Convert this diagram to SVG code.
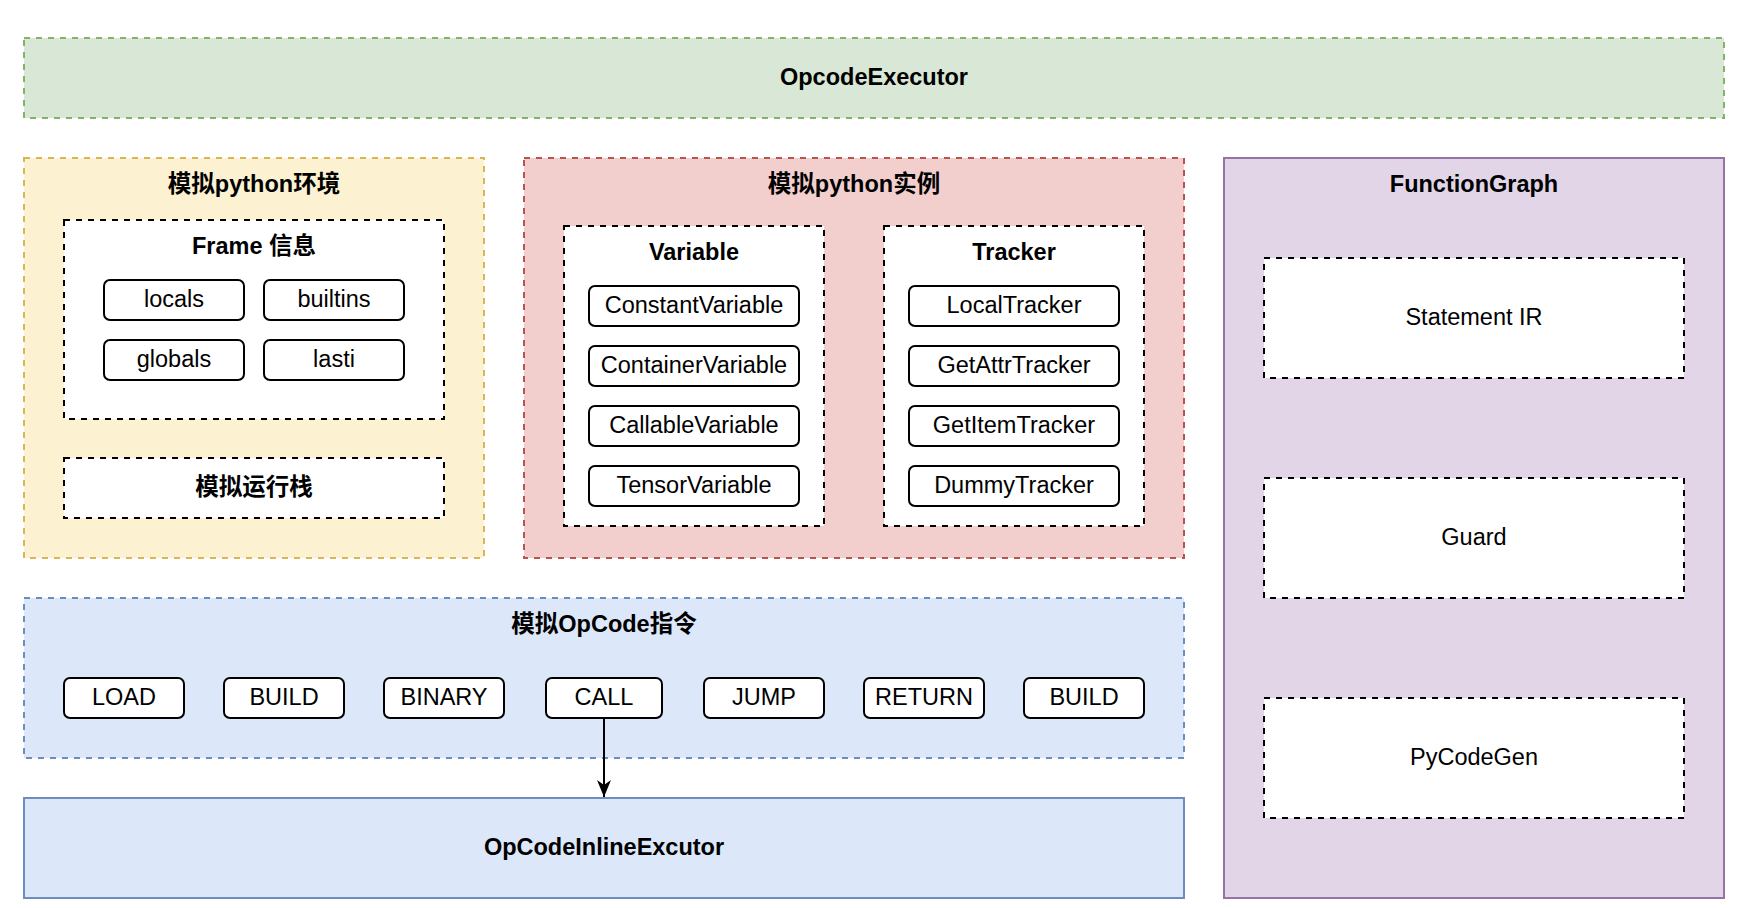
<svg xmlns="http://www.w3.org/2000/svg" width="1746" height="908" viewBox="0 0 1746 908">
<defs>
<style>
.t{font-family:"Liberation Sans","Noto Sans CJK SC",Arial,sans-serif;font-size:23.5px;fill:#000;text-anchor:middle;dominant-baseline:central}
.b{font-weight:bold}
.dash{stroke-width:2;stroke-dasharray:6 6}
.inner{fill:#fff;stroke:#000;stroke-width:2;stroke-dasharray:6 6}
.pill{fill:#fff;stroke:#000;stroke-width:2}
</style>
<marker id="arr" viewBox="0 0 17 14" refX="17" refY="7" markerWidth="17" markerHeight="14" markerUnits="userSpaceOnUse" orient="auto">
<path d="M0,0 L17,7 L0,14 L5,7 Z" fill="#000"/>
</marker>
</defs>
<rect width="1746" height="908" fill="#fff"/>

<g id="opcodeExecutor">
<rect x="24" y="38" width="1700" height="80" fill="#d9e7d6" stroke="#82b366" class="dash"/>
<text class="t b" x="874" y="77">OpcodeExecutor</text>
</g>

<g id="pyEnv">
<rect x="24" y="158" width="460" height="400" fill="#fcf1d0" stroke="#d6b656" class="dash"/>
<text class="t b" x="254" y="184">模拟python环境</text>
</g>
<g id="frameInfo">
<rect x="64" y="220" width="380" height="199" class="inner"/>
<text class="t b" x="254" y="246">Frame 信息</text>
</g>
<g id="locals"><rect x="104" y="280" width="140" height="40" rx="6" class="pill"/><text class="t" x="174" y="299">locals</text></g>
<g id="builtins"><rect x="264" y="280" width="140" height="40" rx="6" class="pill"/><text class="t" x="334" y="299">builtins</text></g>
<g id="globals"><rect x="104" y="340" width="140" height="40" rx="6" class="pill"/><text class="t" x="174" y="359">globals</text></g>
<g id="lasti"><rect x="264" y="340" width="140" height="40" rx="6" class="pill"/><text class="t" x="334" y="359">lasti</text></g>
<g id="stack">
<rect x="64" y="458" width="380" height="60" class="inner"/>
<text class="t b" x="254" y="487">模拟运行栈</text>
</g>

<g id="pyInstance">
<rect x="524" y="158" width="660" height="400" fill="#f2cfcd" stroke="#b85450" class="dash"/>
<text class="t b" x="854" y="184">模拟python实例</text>
</g>
<g id="variable">
<rect x="564" y="226" width="260" height="300" class="inner"/>
<text class="t b" x="694" y="252">Variable</text>
</g>
<g id="constantVariable"><rect x="589" y="286" width="210" height="40" rx="6" class="pill"/><text class="t" x="694" y="305">ConstantVariable</text></g>
<g id="containerVariable"><rect x="589" y="346" width="210" height="40" rx="6" class="pill"/><text class="t" x="694" y="365">ContainerVariable</text></g>
<g id="callableVariable"><rect x="589" y="406" width="210" height="40" rx="6" class="pill"/><text class="t" x="694" y="425">CallableVariable</text></g>
<g id="tensorVariable"><rect x="589" y="466" width="210" height="40" rx="6" class="pill"/><text class="t" x="694" y="485">TensorVariable</text></g>
<g id="tracker">
<rect x="884" y="226" width="260" height="300" class="inner"/>
<text class="t b" x="1014" y="252">Tracker</text>
</g>
<g id="localTracker"><rect x="909" y="286" width="210" height="40" rx="6" class="pill"/><text class="t" x="1014" y="305">LocalTracker</text></g>
<g id="getAttrTracker"><rect x="909" y="346" width="210" height="40" rx="6" class="pill"/><text class="t" x="1014" y="365">GetAttrTracker</text></g>
<g id="getItemTracker"><rect x="909" y="406" width="210" height="40" rx="6" class="pill"/><text class="t" x="1014" y="425">GetItemTracker</text></g>
<g id="dummyTracker"><rect x="909" y="466" width="210" height="40" rx="6" class="pill"/><text class="t" x="1014" y="485">DummyTracker</text></g>

<g id="functionGraph">
<rect x="1224" y="158" width="500" height="740" fill="#e1d5e7" stroke="#9673a6" stroke-width="2"/>
<text class="t b" x="1474" y="184">FunctionGraph</text>
</g>
<g id="statementIR"><rect x="1264" y="258" width="420" height="120" class="inner"/><text class="t" x="1474" y="317">Statement IR</text></g>
<g id="guard"><rect x="1264" y="478" width="420" height="120" class="inner"/><text class="t" x="1474" y="537">Guard</text></g>
<g id="pyCodeGen"><rect x="1264" y="698" width="420" height="120" class="inner"/><text class="t" x="1474" y="757">PyCodeGen</text></g>

<g id="opcodeSim">
<rect x="24" y="598" width="1160" height="160" fill="#dce7f9" stroke="#6c8ebf" class="dash"/>
<text class="t b" x="604" y="624">模拟OpCode指令</text>
</g>
<g id="load"><rect x="64" y="678" width="120" height="40" rx="6" class="pill"/><text class="t" x="124" y="697">LOAD</text></g>
<g id="build1"><rect x="224" y="678" width="120" height="40" rx="6" class="pill"/><text class="t" x="284" y="697">BUILD</text></g>
<g id="binary"><rect x="384" y="678" width="120" height="40" rx="6" class="pill"/><text class="t" x="444" y="697">BINARY</text></g>
<g id="call"><rect x="546" y="678" width="116" height="40" rx="6" class="pill"/><text class="t" x="604" y="697">CALL</text></g>
<g id="jump"><rect x="704" y="678" width="120" height="40" rx="6" class="pill"/><text class="t" x="764" y="697">JUMP</text></g>
<g id="return"><rect x="864" y="678" width="120" height="40" rx="6" class="pill"/><text class="t" x="924" y="697">RETURN</text></g>
<g id="build2"><rect x="1024" y="678" width="120" height="40" rx="6" class="pill"/><text class="t" x="1084" y="697">BUILD</text></g>

<g id="inlineExecutor">
<rect x="24" y="798" width="1160" height="100" fill="#dce7f9" stroke="#6c8ebf" stroke-width="2"/>
<text class="t b" x="604" y="847">OpCodeInlineExcutor</text>
</g>

<g id="connectors">
<line x1="604" y1="718" x2="604" y2="797" stroke="#000" stroke-width="2" marker-end="url(#arr)"/>
</g>
</svg>
